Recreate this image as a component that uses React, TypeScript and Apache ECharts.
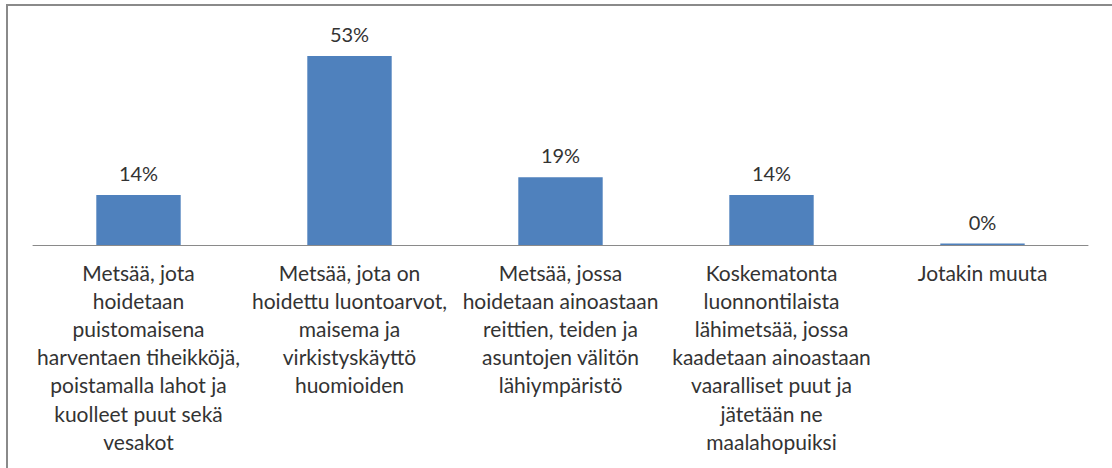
import React, { useEffect, useRef } from "react";
import * as echarts from "echarts";

const categories: string[] = [
  "Metsää, jota\nhoidetaan\npuistomaisena\nharventaen tiheikköjä,\npoistamalla lahot ja\nkuolleet puut sekä\nvesakot",
  "Metsää, jota on\nhoidettu luontoarvot,\nmaisema ja\nvirkistyskäyttö\nhuomioiden",
  "Metsää, jossa\nhoidetaan ainoastaan\nreittien, teiden ja\nasuntojen välitön\nlähiympäristö",
  "Koskematonta\nluonnontilaista\nlähimetsää, jossa\nkaadetaan ainoastaan\nvaaralliset puut ja\njätetään ne\nmaalahopuiksi",
  "Jotakin muuta",
];

const values: number[] = [14, 53, 19, 14, 0.4];

const yMin = 0;
const yMax = 60;

export default function App() {
  const ref = useRef<HTMLDivElement>(null);

  useEffect(() => {
    document.body.style.margin = "0";
    if (!ref.current) return;
    const chart = echarts.init(ref.current, undefined, { renderer: "svg" });
    const font = "Lato, 'Liberation Sans', Arial, sans-serif";
    chart.setOption({
      animation: false,
      backgroundColor: "#ffffff",
      grid: {
        left: 33,
        right: 24,
        top: 31,
        bottom: 223,
        outerBoundsMode: "none",
        containLabel: false,
      },
      graphic: [
        {
          type: "rect",
          shape: { x: 7, y: 5, width: 1200, height: 600 },
          style: { fill: "none", stroke: "#8a8a8a", lineWidth: 2 },
          silent: true,
          z: 100,
        },
      ],
      xAxis: {
        type: "category",
        data: categories,
        axisLine: { show: true, lineStyle: { color: "#8a8a8a", width: 1 } },
        axisTick: { show: false },
        axisLabel: {
          interval: 0,
          margin: 13,
          color: "#333333",
          fontFamily: font,
          fontSize: 21,
          lineHeight: 28.2,
          align: "center",
          verticalAlign: "top",
        },
        splitLine: { show: false },
      },
      yAxis: {
        type: "value",
        min: yMin,
        max: yMax,
        show: false,
        splitLine: { show: false },
      },
      series: [
        {
          type: "bar",
          data: values,
          barCategoryGap: "60%",
          itemStyle: { color: "#4F81BD" },
          label: {
            show: true,
            position: "top",
            distance: 12,
            color: "#333333",
            fontFamily: font,
            fontSize: 20,
            formatter: (p: any) => Math.round(p.value) + "%",
          },
        },
      ],
    });
    return () => chart.dispose();
  }, []);

  return <div ref={ref} style={{ width: 1112, height: 468 }} />;
}
